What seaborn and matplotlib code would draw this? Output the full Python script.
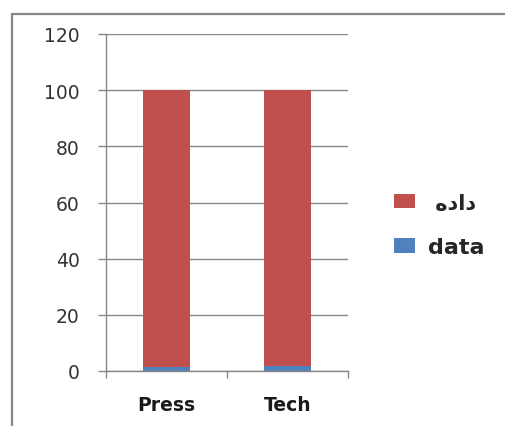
import matplotlib
matplotlib.use("Agg")
import matplotlib.pyplot as plt
import seaborn as sns
import numpy as np
import pandas as pd
from matplotlib.lines import Line2D
from matplotlib.patches import Patch

categories = ["Press", "Tech"]
data_vals = [1.5, 1.8]
dade_vals = [98.5, 98.2]
yticks = [0, 20, 40, 60, 80, 100, 120]
series_names = [" \u0647\u062f\u0627\u062f", "data"]  # داده (visual order), data

RED = "#C0504D"
BLUE = "#4F81BD"
GRID = "#868686"

sns.set_theme(style="white")
plt.rcParams['font.family'] = ['DejaVu Sans']

fig = plt.figure(figsize=(5.05, 4.27), dpi=100)
ax = fig.add_axes([106/505, 1-372/427, (348-106)/505, (372-35)/427])

df = pd.DataFrame({"cat": categories, "data": data_vals, "dade": dade_vals})
df["total"] = df["data"] + df["dade"]

sns.barplot(data=df, x="cat", y="total", color=RED, width=0.39, ax=ax,
            saturation=1, edgecolor="none", linewidth=0)
sns.barplot(data=df, x="cat", y="data", color=BLUE, width=0.39, ax=ax,
            saturation=1, edgecolor="none", linewidth=0)

ax.set_xlim(-0.5, 1.5)
ax.set_ylim(0, 120)
ax.set_yticks(yticks)
ax.set_yticklabels([str(v) for v in yticks], fontsize=13.5, color="#333333")
ax.set_xlabel("")
ax.set_ylabel("")
ax.yaxis.grid(True, color=GRID, linewidth=1.0)
ax.set_axisbelow(True)

for s in ["top", "right"]:
    ax.spines[s].set_visible(False)
for s in ["left", "bottom"]:
    ax.spines[s].set_color(GRID)
    ax.spines[s].set_linewidth(1.0)

ax.tick_params(axis="y", which="major", direction="out", length=6, width=1.0,
               color=GRID, left=True, pad=13)
ax.set_xticks(range(len(categories)))
ax.set_xticklabels(categories, fontsize=13.5, fontweight="bold", color="#1a1a1a")
ax.set_xticks([-0.5, 0.5, 1.5], minor=True)
ax.tick_params(axis="x", which="major", length=0, pad=17)
ax.tick_params(axis="x", which="minor", direction="out", length=5, width=1.0,
               color=GRID, bottom=True)

# Legend
handles = [Patch(facecolor=RED, edgecolor="none"), Patch(facecolor=BLUE, edgecolor="none")]
leg = fig.legend(handles, series_names, loc="center left",
                 bbox_to_anchor=(385/505, 1-226/427), frameon=False,
                 prop={"size": 16, "weight": "bold"},
                 handlelength=0.95, handleheight=0.65, labelspacing=1.1,
                 handletextpad=0.6, borderaxespad=0)
leg.get_texts()[0].set_fontsize(15)

# Outer border (top and left only visible)
fig.add_artist(Line2D([12/505, 1.0], [1-14.5/427, 1-14.5/427], transform=fig.transFigure,
                      color="#888888", linewidth=1.6))
fig.add_artist(Line2D([12/505, 12/505], [0, 1-14.5/427], transform=fig.transFigure,
                      color="#888888", linewidth=1.6))

fig.savefig("out.png", dpi=100)
